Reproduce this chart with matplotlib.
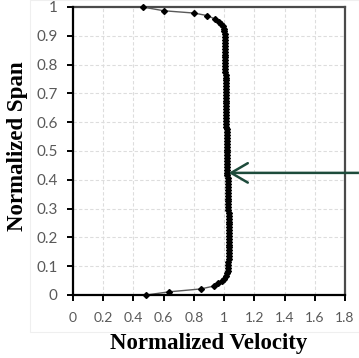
import matplotlib
matplotlib.use("Agg")
import matplotlib.pyplot as plt
from matplotlib.patches import Rectangle

# ---- data ----
span = [0.000, 0.011, 0.021, 0.031, 0.040, 0.047, 0.055, 0.065,
        0.075, 0.085, 0.095, 0.105, 0.115, 0.125, 0.135, 0.145, 0.155, 0.165,
        0.175, 0.185, 0.195, 0.205, 0.215, 0.225, 0.235, 0.245, 0.255, 0.265,
        0.275, 0.285, 0.295, 0.305, 0.315, 0.325, 0.335, 0.345, 0.355, 0.365,
        0.375, 0.385, 0.395, 0.405, 0.415, 0.425, 0.435, 0.445, 0.455, 0.465,
        0.475, 0.485, 0.495, 0.505, 0.515, 0.525, 0.535, 0.545, 0.555, 0.565,
        0.575, 0.585, 0.595, 0.605, 0.615, 0.625, 0.635, 0.645, 0.655, 0.665,
        0.675, 0.685, 0.695, 0.705, 0.715, 0.725, 0.735, 0.745, 0.755, 0.765,
        0.775, 0.785, 0.795, 0.805, 0.815, 0.825, 0.835, 0.845, 0.855, 0.865,
        0.875, 0.885, 0.895, 0.905, 0.915, 0.925, 0.933, 0.941, 0.948,
        0.958, 0.970, 0.979, 0.987, 1.000]
velocity = [0.485, 0.635, 0.845, 0.932, 0.962, 0.985, 1.002, 1.013,
            1.020, 1.024, 1.026, 1.028, 1.029, 1.030, 1.031, 1.032, 1.032, 1.033,
            1.033, 1.034, 1.034, 1.034, 1.034, 1.033, 1.033, 1.033, 1.032, 1.032,
            1.031, 1.030, 1.029, 1.028, 1.027, 1.027, 1.026, 1.026, 1.025, 1.025,
            1.024, 1.024, 1.023, 1.023, 1.022, 1.022, 1.021, 1.021, 1.020, 1.020,
            1.019, 1.019, 1.018, 1.018, 1.018, 1.017, 1.017, 1.017, 1.016, 1.016,
            1.016, 1.015, 1.015, 1.015, 1.014, 1.014, 1.014, 1.014, 1.013, 1.013,
            1.013, 1.012, 1.012, 1.012, 1.011, 1.011, 1.011, 1.010, 1.010, 1.010,
            1.009, 1.009, 1.009, 1.008, 1.008, 1.007, 1.007, 1.006, 1.006, 1.005,
            1.005, 1.004, 1.004, 1.003, 1.001, 0.997, 0.990, 0.980, 0.968,
            0.940, 0.890, 0.800, 0.600, 0.460]

x_ticks = [0, 0.2, 0.4, 0.6, 0.8, 1.0, 1.2, 1.4, 1.6, 1.8]
x_tick_labels = ["0", "0.2", "0.4", "0.6", "0.8", "1", "1.2", "1.4", "1.6", "1.8"]
y_ticks = [0, 0.1, 0.2, 0.3, 0.4, 0.5, 0.6, 0.7, 0.8, 0.9, 1.0]
y_tick_labels = ["0", "0.1", "0.2", "0.3", "0.4", "0.5", "0.6", "0.7", "0.8", "0.9", "1"]
arrow_span = 0.424
arrow_velocity = 1.03

W, H = 359, 358
fig = plt.figure(figsize=(W / 100, H / 100), dpi=100)
fig.patch.set_facecolor("white")

# faint chart-area border
fig.patches.append(Rectangle((30 / W, (H - 332) / H), (W - 30) / W, 332 / H,
                             transform=fig.transFigure, fill=False,
                             edgecolor="#efefef", linewidth=0.8))

ax = fig.add_axes([73 / W, (H - 295) / H, (345 - 73) / W, (295 - 7) / H])
ax.set_xlim(0, 1.8)
ax.set_ylim(0, 1)

ax.set_xticks(x_ticks)
ax.set_xticklabels(x_tick_labels)
ax.set_yticks(y_ticks)
ax.set_yticklabels(y_tick_labels)

ax.grid(True, color="#dddddd", linestyle=(0, (3, 2)), linewidth=0.8)
ax.set_axisbelow(True)

for s in ["left", "bottom"]:
    ax.spines[s].set_color("black")
    ax.spines[s].set_linewidth(1.6)
    ax.spines[s].set_zorder(5)
for s in ["top", "right"]:
    ax.spines[s].set_color("#4a4a4a")
    ax.spines[s].set_linewidth(1.6)

ax.tick_params(axis="both", direction="out", length=4, width=1.4, color="black",
               labelcolor="#595959", labelsize=10)
ax.tick_params(axis="x", pad=8)
ax.tick_params(axis="y", pad=7)
for lab in ax.get_xticklabels() + ax.get_yticklabels():
    lab.set_fontfamily("Lato")
for lab in ax.get_yticklabels():
    lab.set_fontsize(11)

ax.plot(velocity, span, color="#595959", linewidth=1.0, marker="D",
        markersize=3.0, markerfacecolor="black", markeredgecolor="black",
        clip_on=False, zorder=4)

ax.annotate("", xy=(arrow_velocity, arrow_span),
            xytext=(1.0, arrow_span), xycoords="data",
            textcoords=("figure fraction", "data"),
            arrowprops=dict(arrowstyle="->,head_length=1.2,head_width=0.7",
                            color="#1d4b3b", linewidth=1.8,
                            shrinkA=0, shrinkB=0, mutation_scale=10),
            annotation_clip=False, zorder=6)

fig.text(209 / W, 1 - 344 / H, "Normalized Velocity", ha="center", va="center",
         fontsize=16.5, fontweight="bold", family="Liberation Serif")
fig.text(18 / W, 1 - 146 / H, "Normalized Span", ha="center", va="center",
         rotation=90, fontsize=16.5, fontweight="bold", family="Liberation Serif")

fig.savefig("out.png", dpi=100)
